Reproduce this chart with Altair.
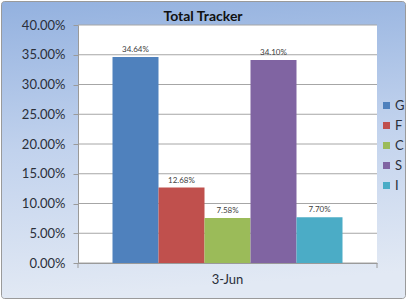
import altair as alt
import pandas as pd

series = ["G", "F", "C", "S", "I"]
values = [0.3464, 0.1268, 0.0758, 0.3410, 0.0770]
dates = ["3-Jun"] * 5
ticks = [0.0, 0.05, 0.10, 0.15, 0.20, 0.25, 0.30, 0.35, 0.40]
colors = ["#4F81BD", "#C0504D", "#9BBB59", "#8064A2", "#4BACC6"]
title_text = "Total Tracker"

df = pd.DataFrame({"date": dates, "series": series, "value": values})
grid_df = pd.DataFrame({"value": ticks})
one = pd.DataFrame({"a": [0]})
title_df = pd.DataFrame({"t": [title_text]})

W, H = 299, 238
FONT = "Lato"

yscale = alt.Scale(domain=[0, 0.4], nice=False, zero=True)
yaxis = alt.Axis(title=None, values=ticks, format=".2%", grid=False, ticks=True,
                 tickSize=5, tickColor="#9a9a9a", domainColor="#9a9a9a",
                 labelFont=FONT, labelFontSize=13, labelColor="#2a2f3a",
                 labelPadding=8, zindex=1)

bg = alt.Chart(one).mark_rect(
    fill=alt.Gradient(gradient="linear", x1=0, y1=0, x2=0.1, y2=1,
                      stops=[alt.GradientStop(offset=0, color="#93b1df"),
                             alt.GradientStop(offset=0.5, color="#c1d2ed"),
                             alt.GradientStop(offset=1, color="#e2e9f4")]),
    stroke="#9a9a9a", strokeWidth=1, cornerRadius=3
).encode(x=alt.value(-76.5), x2=alt.value(327.5), y=alt.value(-23.5), y2=alt.value(273.5))

white = alt.Chart(one).mark_rect(fill="white").encode(
    x=alt.value(0), x2=alt.value(W), y=alt.value(0), y2=alt.value(H))

grid = alt.Chart(grid_df).mark_rule(color="#a6a6a6", strokeWidth=1).encode(
    y=alt.Y("value:Q", scale=yscale, axis=yaxis),
    x=alt.value(0), x2=alt.value(W))

xtick_l = alt.Chart(one).mark_rule(color="#9a9a9a").encode(
    x=alt.value(0), y=alt.value(H), y2=alt.value(H + 5))
xtick_r = alt.Chart(one).mark_rule(color="#9a9a9a").encode(
    x=alt.value(W), y=alt.value(H), y2=alt.value(H + 5))

title = alt.Chart(title_df).mark_text(font=FONT, fontSize=14, fontWeight="bold",
                                      color="#111111", baseline="alphabetic",
                                      align="center").encode(
    x=alt.value(125), y=alt.value(-4), text="t:N")

xenc = alt.X("date:N", scale=alt.Scale(paddingInner=0, paddingOuter=0.15),
             axis=alt.Axis(title=None, labelAngle=0, ticks=False, domainColor="#9a9a9a",
                           labelFont=FONT, labelFontSize=13, labelColor="#2a2f3a",
                           labelPadding=10, zindex=1))
xoff = alt.XOffset("series:N", scale=alt.Scale(domain=series, paddingInner=0, paddingOuter=0))

bars = alt.Chart(df).mark_bar().encode(
    x=xenc, xOffset=xoff,
    y=alt.Y("value:Q", scale=yscale, axis=yaxis),
    color=alt.Color("series:N", scale=alt.Scale(domain=series, range=colors),
                    legend=alt.Legend(title=None, orient="none", legendX=302, legendY=74,
                                      symbolType="square", symbolSize=49,
                                      symbolStrokeWidth=0, labelFont=FONT,
                                      labelFontSize=13, labelColor="#2a2f3a",
                                      labelOffset=2, rowPadding=6, padding=0)))

labels = alt.Chart(df).mark_text(dy=-7, fontSize=8, font=FONT, color="#404040").encode(
    x=xenc, xOffset=xoff,
    y=alt.Y("value:Q", scale=yscale, axis=yaxis),
    text=alt.Text("value:Q", format=".2%"))

chart = alt.layer(bg, white, grid, xtick_l, xtick_r, bars, labels, title).properties(
    width=W, height=H,
    autosize=alt.AutoSizeParams(type="none"),
    padding={"left": 78, "top": 25, "right": 30, "bottom": 37},
).configure_view(stroke=None)

chart.save("out.html", embed_options={"renderer": "svg", "actions": False})
